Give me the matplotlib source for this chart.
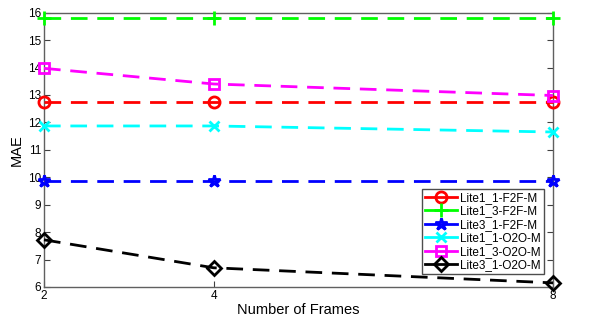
import numpy as np
import matplotlib
matplotlib.use('Agg')
import matplotlib.pyplot as plt
from matplotlib.lines import Line2D

plt.rcParams['font.family'] = ['Liberation Sans', 'DejaVu Sans']

# Data
frames = [2, 4, 8]
names = ['Lite1_1-F2F-M', 'Lite1_3-F2F-M', 'Lite3_1-F2F-M',
         'Lite1_1-O2O-M', 'Lite1_3-O2O-M', 'Lite3_1-O2O-M']
mae_l11_f2f = [12.75, 12.75, 12.75]
mae_l13_f2f = [15.8, 15.8, 15.8]
mae_l31_f2f = [9.85, 9.85, 9.85]
mae_l11_o2o = [11.87, 11.87, 11.65]
mae_l13_o2o = [13.97, 13.4, 12.98]
mae_l31_o2o = [7.72, 6.7, 6.15]

series = [mae_l11_f2f, mae_l13_f2f, mae_l31_f2f, mae_l11_o2o, mae_l13_o2o, mae_l31_o2o]
colors = ['#ff0000', '#00ff00', '#0000ff', '#00ffff', '#ff00ff', '#000000']
markers = ['o', '+', '*', 'x', 's', 'D']
msizes = [8, 10, 9, 7, 7, 7]

fig = plt.figure(figsize=(6.1, 3.22), dpi=100)
ax = fig.add_axes([0.0721, 0.1087, 0.8345, 0.852])

handles = []
for yy, cc, mk, ms, nm in zip(series, colors, markers, msizes, names):
    ax.plot(frames, yy, ls=(0, (6, 3.5)), lw=2, color=cc, marker=mk, ms=ms,
            mfc='none', mec=cc, mew=2, clip_on=False, zorder=3)
    handles.append(Line2D([], [], color=cc, lw=2, marker=mk, ms=ms,
                          mfc='none', mec=cc, mew=2))

ax.set_xlim(2, 8)
ax.set_ylim(6, 16)
ax.set_xticks([2, 4, 8])
ax.set_yticks(range(6, 17))
ax.tick_params(direction='in', top=True, right=True, labelsize=8.5, length=4,
               color='#404040', pad=2)
for sp in ax.spines.values():
    sp.set_color('#606060')
    sp.set_linewidth(1)

ax.set_xlabel('Number of Frames', fontsize=10.5, labelpad=1)
ax.set_ylabel('MAE', fontsize=10.5, labelpad=3)

leg = ax.legend(handles, names, loc='lower right', bbox_to_anchor=(0.982, 0.047),
                prop={'family': ['Liberation Sans Narrow', 'Liberation Sans'], 'size': 8.5},
                frameon=True, fancybox=False, handlelength=2.7,
                borderpad=0.25, labelspacing=0.12, handletextpad=0.3,
                borderaxespad=0)
leg.get_frame().set_edgecolor('#202020')
leg.get_frame().set_linewidth(1)

plt.savefig('out.png', dpi=100)
